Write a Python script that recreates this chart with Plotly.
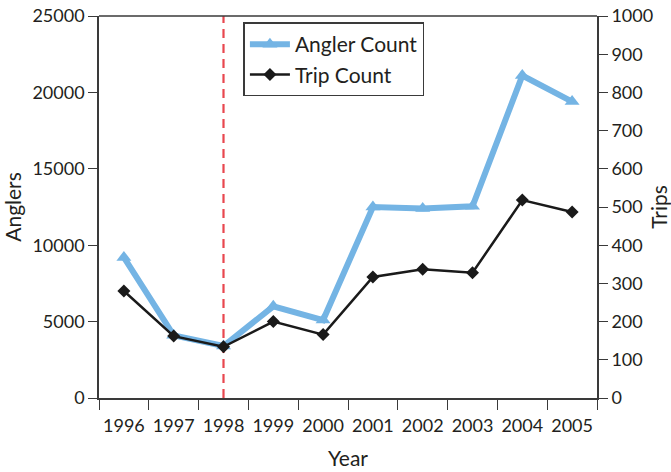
import plotly.graph_objects as go

# Survey results by year
years = ["1996", "1997", "1998", "1999", "2000", "2001", "2002", "2003", "2004", "2005"]
angler_count = [9200, 4100, 3400, 6000, 5100, 12500, 12400, 12550, 21100, 19400]
trip_count = [280, 162, 134, 200, 166, 317, 337, 328, 518, 487]
policy_year = "1998"

angler_ticks = [0, 5000, 10000, 15000, 20000, 25000]
trip_ticks = [0, 100, 200, 300, 400, 500, 600, 700, 800, 900, 1000]

FONT = "Lato"
AXIS_COLOR = "#3a3a3a"
TEXT_COLOR = "#231f20"
TICK_SIZE = 18
TITLE_SIZE = 21

fig = go.Figure()

# vertical reference marker at the policy year
fig.add_trace(go.Scatter(
    x=[policy_year, policy_year], y=[angler_ticks[0], angler_ticks[-1]],
    mode="lines", line=dict(color="#e8474f", width=2.2, dash="9px,6px"),
    showlegend=False, hoverinfo="skip", yaxis="y",
))

fig.add_trace(go.Scatter(
    x=years, y=angler_count, name="Angler Count", yaxis="y",
    mode="lines+markers",
    line=dict(color="#74b4e4", width=6),
    marker=dict(symbol="triangle-up", size=13, color="#74b4e4"),
))

fig.add_trace(go.Scatter(
    x=years, y=trip_count, name="Trip Count", yaxis="y2",
    mode="lines+markers",
    line=dict(color="#1a1a1a", width=2.5),
    marker=dict(symbol="diamond", size=10, color="#1a1a1a"),
))

fig.update_layout(
    width=671, height=472,
    margin=dict(l=99, r=74, t=16, b=74),
    paper_bgcolor="white", plot_bgcolor="white",
    font=dict(family=FONT, size=TICK_SIZE, color=TEXT_COLOR),
    xaxis=dict(
        type="category", categoryorder="array", categoryarray=years,
        range=[-0.5, len(years) - 0.5],
        tickson="boundaries", ticks="outside", ticklen=10, tickwidth=1.3,
        tickcolor=AXIS_COLOR, showline=True, linecolor=AXIS_COLOR, linewidth=1.6,
        mirror=False, showgrid=False, zeroline=False, automargin=False,
        tickangle=0, ticklabelstandoff=11,
        title=dict(text="Year", font=dict(size=TITLE_SIZE), standoff=16),
        tickfont=dict(size=TICK_SIZE),
    ),
    yaxis=dict(
        range=[angler_ticks[0], angler_ticks[-1]], tickvals=angler_ticks,
        ticktext=[str(v) for v in angler_ticks],
        ticks="outside", ticklen=9, tickwidth=1.3, tickcolor=AXIS_COLOR,
        showline=True, linecolor=AXIS_COLOR, linewidth=1.6,
        showgrid=False, zeroline=False, automargin=False,
        title=dict(text="Anglers", font=dict(size=TITLE_SIZE), standoff=5),
        tickfont=dict(size=TICK_SIZE),
    ),
    yaxis2=dict(
        overlaying="y", side="right",
        range=[trip_ticks[0], trip_ticks[-1]], tickvals=trip_ticks,
        ticktext=[str(v) for v in trip_ticks],
        ticks="outside", ticklen=9, tickwidth=1.3, tickcolor=AXIS_COLOR,
        showline=True, linecolor=AXIS_COLOR, linewidth=1.6,
        showgrid=False, zeroline=False, automargin=False,
        title=dict(text="Trips", font=dict(size=TITLE_SIZE), standoff=7),
        tickfont=dict(size=TICK_SIZE),
    ),
    legend=dict(
        x=0.29, y=0.983, xanchor="left", yanchor="top",
        bordercolor="#3a3a3a", borderwidth=1.5, bgcolor="white",
        font=dict(size=21), tracegroupgap=0, itemwidth=40,
    ),
    showlegend=True,
)

# top frame line across the plotting area
fig.add_shape(type="line", xref="paper", yref="paper", x0=0, x1=1, y0=1, y1=1,
              line=dict(color=AXIS_COLOR, width=1.6))

fig.write_html("out.html")
